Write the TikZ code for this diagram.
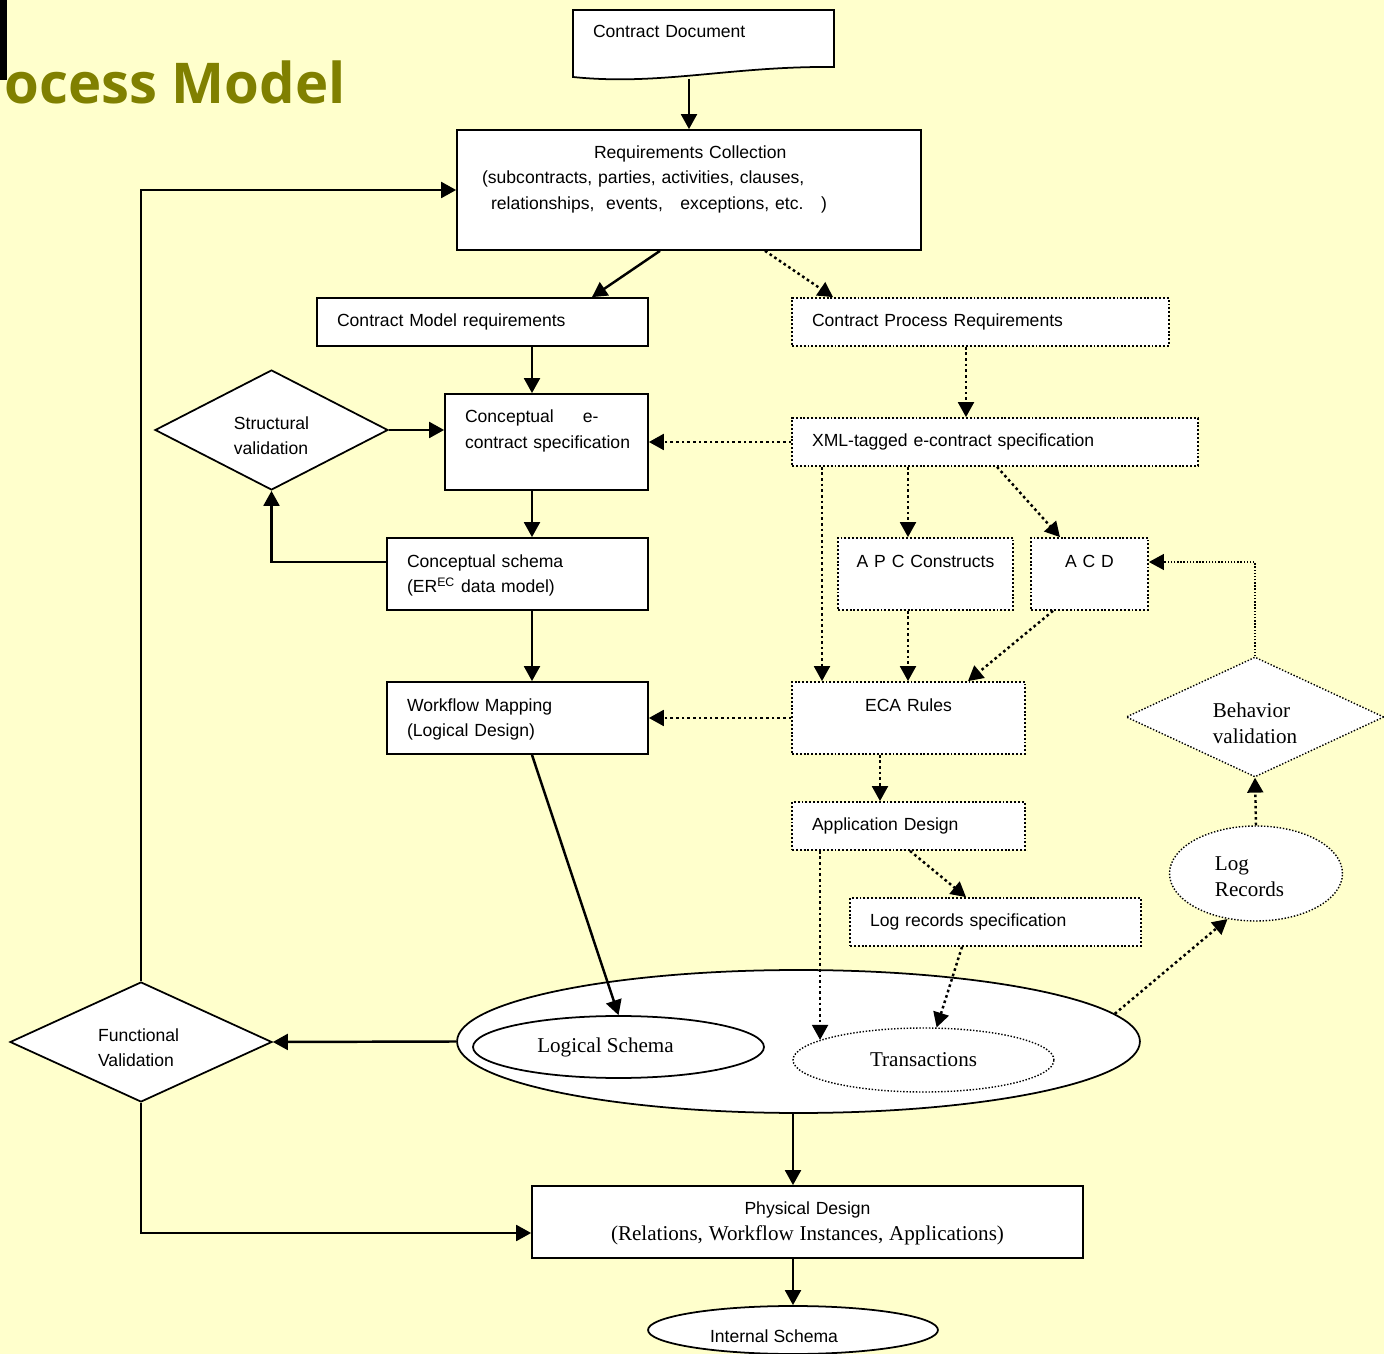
\documentclass[tikz,border=0pt]{standalone}
\usepackage{fontspec}
\setmainfont{Liberation Sans}
\newfontfamily\serifrm{Liberation Serif}
\newfontfamily\titlefont{Open Sans}
\usetikzlibrary{arrows.meta,shapes.geometric}
\definecolor{bgyellow}{RGB}{255,255,204}
\definecolor{olivetitle}{RGB}{128,128,0}
\hyphenpenalty=10000
\exhyphenpenalty=10000

\begin{document}
\begin{tikzpicture}[x=0.02cm,y=-0.02cm,
  box/.style={draw,fill=white,line width=1pt,inner xsep=0.4cm,inner ysep=0pt,align=left,font=\fontsize{10}{14.5}\selectfont},
  dbox/.style={box,dash pattern=on 1.1pt off 1.1pt},
  cbox/.style={dbox,align=center,inner xsep=0.1cm},
  dia/.style={diamond,aspect=2,draw,fill=white,line width=1pt,inner sep=0pt,align=left,font=\fontsize{10}{14.5}\selectfont},
  ell/.style={ellipse,draw,fill=white,line width=1pt,inner sep=0pt,font=\serifrm\fontsize{12}{14.7}\selectfont},
  thindot/.style={line width=0.8pt,dash pattern=on 0.8pt off 1pt},
  arr/.style={line width=1.4pt,-{Triangle[length=8.5pt,width=9pt]}},
  darr/.style={arr,dash pattern=on 1.5pt off 1.7pt},
  tarr/.style={thindot,-{Triangle[length=8.5pt,width=9pt]}}]
\fill[bgyellow] (0,0) rectangle (1384,1354);
\useasboundingbox (0,0) rectangle (1384,1354);
\fill (0,0) rectangle (7,80);
\node[anchor=base west,inner sep=0pt,text=olivetitle,font=\titlefont\bfseries\fontsize{32}{36}\selectfont] (title) at (4,104) {ocess Model};

% document shape at the top
\draw[line width=1pt,fill=white] (573,10) -- (834,10) -- (834,67) .. controls (730,66) and (660,86) .. (573,77) -- cycle;
\node[box,draw=none,fill=none,text width=4.42cm,minimum height=1.36cm] (doc) at (703.5,44) {Contract Document\\~};

\node[box,inner xsep=0.5cm,text width=8.28cm,minimum height=2.4cm] (req) at (689,190) {\hspace*{2.24cm}Requirements Collection\\(subcontracts, parties, activities, clauses,\\\hspace*{0.18cm}relationships,\ \ events,\ \ \ exceptions, etc.\ \ \ )\\~};
\node[box,text width=5.82cm,minimum height=0.96cm] (cmr) at (482.5,322) {Contract Model requirements};
\node[dbox,text width=6.74cm,minimum height=0.96cm] (cpr) at (980.5,322) {Contract Process Requirements};
\node[box,text width=3.26cm,minimum height=1.92cm] (cec) at (546.5,442) {Conceptual\hspace{0.58cm}e-\\\mbox{contract specification}\\~};
\node[dbox,text width=7.32cm,minimum height=0.96cm] (xml) at (995,442) {XML-tagged e-contract specification};
\node[dia,minimum width=4.66cm,minimum height=2.4cm] (sv) at (271.5,430) {\rule{0pt}{13.5pt}Structural\\validation};
\node[box,text width=4.42cm,minimum height=1.44cm] (csch) at (517.5,574) {\rule{0pt}{9pt}Conceptual schema\\(ER\textsuperscript{EC} data model)};
\node[cbox,text width=3.3cm,minimum height=1.44cm] (apc) at (925.5,574) {A P C Constructs\\~};
\node[cbox,text width=2.14cm,minimum height=1.44cm] (acd) at (1089.5,574) {A C D\\~};
\node[box,text width=4.42cm,minimum height=1.44cm] (wfm) at (517.5,718) {\rule{0pt}{9pt}Workflow Mapping\\(Logical Design)};
\node[cbox,text width=4.46cm,minimum height=1.44cm] (eca) at (908.5,718) {ECA Rules\\~};
\node[dia,thindot,font=\serifrm\fontsize{12}{14.7}\selectfont,minimum width=5.16cm,minimum height=2.4cm] (bv) at (1255,717) {\rule{0pt}{15.5pt}Behavior\\validation};
\node[dbox,text width=3.86cm,minimum height=0.96cm] (appd) at (908.5,826) {Application Design};
\node[ell,thindot,align=left,minimum width=3.46cm,minimum height=1.9cm] (logr) at (1256,873.5) {\rule{0pt}{11.5pt}Log\\Records\hspace*{0.26cm}};
\node[dbox,text width=5.02cm,minimum height=0.96cm] (lrs) at (995.5,922) {Log records specification};

% schemas
\node[ell,minimum width=13.66cm,minimum height=2.86cm] (big) at (798.5,1041.5) {};
\node[ell,minimum width=5.82cm,minimum height=1.24cm] (ls) at (618.5,1047) {Logical Schema\hspace*{0.52cm}};
\node[ell,thindot,minimum width=5.22cm,minimum height=1.28cm] (tr) at (923.5,1060) {Transactions};
\node[dia,minimum width=5.24cm,minimum height=2.4cm] (fv) at (141,1042) {\rule{0pt}{13.5pt}Functional\\Validation\hspace*{0.2cm}};
\node[box,align=center,text width=10.22cm,minimum height=1.44cm] (pd) at (807.5,1222) {\rule{0pt}{9pt}Physical Design\\{\serifrm\fontsize{12}{14.5}\selectfont(Relations, Workflow Instances, Applications)}};
\node[ell,font=\fontsize{10}{12}\selectfont,text height=14pt,minimum width=5.8cm,minimum height=0.96cm] (is) at (793,1330) {Internal Schema\hspace*{0.76cm}};

% solid flow
\draw[arr] (doc.south -| req.north) -- (req.north);
\draw[arr] (req.south -| 660,0) -- (cmr.north -| 592,0);
\draw[arr] (cmr.south -| 532,0) -- (cec.north -| 532,0);
\draw[arr] (sv.east) -- (cec.west |- sv.east);
\draw[arr] (cec.south -| 532,0) -- (csch.north -| 532,0);
\draw[arr] (csch.west |- 0,562) -| (sv.south);
\draw[arr] (csch.south -| 532,0) -- (wfm.north -| 532,0);
\draw[arr] (wfm.south -| 532,0) -- (ls.north);
\draw[arr] (big.west) -- (fv.east);
\draw[arr] (fv.north) |- (req.west);
\draw[arr] (fv.south) |- (pd.west |- 0,1233);
\draw[arr] (big.south -| 793,0) -- (pd.north -| 793,0);
\draw[arr] (pd.south -| is.north) -- (is.north);

% dotted flow
\draw[darr] (req.south -| 765,0) -- (cpr.north -| 833,0);
\draw[darr] (cpr.south -| 966,0) -- (xml.north -| 966,0);
\draw[darr] (xml.west) -- (cec.east);
\draw[darr] (xml.south -| 822,0) -- (eca.north -| 822,0);
\draw[darr] (xml.south -| 908,0) -- (apc.north -| 908,0);
\draw[darr] (xml.south -| 997,0) -- (acd.north -| 1060,0);
\draw[darr] (apc.south -| 908,0) -- (eca.north -| 908,0);
\draw[darr] (acd.south -| 1053,0) -- (eca.north -| 968,0);
\draw[darr] (eca.west) -- (wfm.east);
\draw[darr] (eca.south -| 880,0) -- (appd.north -| 880,0);
\draw[darr] (appd.south -| 910,0) -- (lrs.north -| 966,0);
\draw[darr] (appd.south -| tr.169) -- (tr.169);
\draw[darr] (lrs.south -| 962,0) -- (tr.68);
\draw[darr] (big.5) -- (logr.238);
\draw[darr] (logr.north) -- (bv.south);
\draw[tarr] (bv.north) |- (acd.east |- 0,562);
\end{tikzpicture}
\end{document}
